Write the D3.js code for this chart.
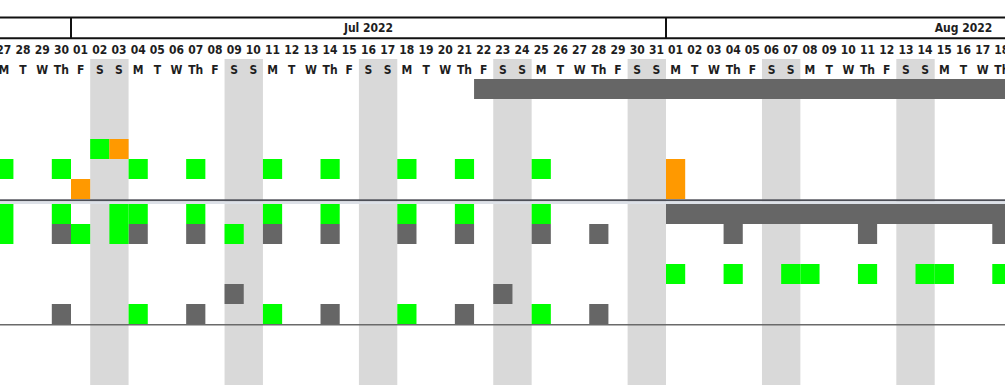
<!DOCTYPE html>
<html>
<head>
<meta charset="utf-8">
<script src="https://cdn.jsdelivr.net/npm/d3@7"></script>
<style>
  html, body { margin: 0; padding: 0; background: #fff; }
  svg { display: block; }
  text { font-family: "DejaVu Sans Condensed", "DejaVu Sans", sans-serif; font-weight: bold; font-stretch: condensed; fill: #1e1e1e; }
</style>
</head>
<body>
<div id="chart"></div>
<script>
// ---- data ----
// months shown in the header band (last entry closes the final month)
const months = ["2022-07-01", "2022-08-01", "2022-09-01"];
// visible day range
const firstDay = "2022-06-27";
const lastDay = "2022-08-19";
// weekday labels (Sunday first, as Date.getUTCDay)
const weekdayLabels = ["S", "M", "T", "W", "Th", "F", "S"];
// each mark: [start date, number of days, row, row span]
const upperDark = [["2022-07-22", 41, 0, 1]];
const upperGreen = [
  ["2022-07-02", 1, 3, 1],
  ["2022-06-27", 1, 4, 1], ["2022-06-30", 1, 4, 1], ["2022-07-04", 1, 4, 1],
  ["2022-07-07", 1, 4, 1], ["2022-07-11", 1, 4, 1], ["2022-07-14", 1, 4, 1],
  ["2022-07-18", 1, 4, 1], ["2022-07-21", 1, 4, 1], ["2022-07-25", 1, 4, 1]
];
const upperOrange = [
  ["2022-07-03", 1, 3, 1],
  ["2022-07-01", 1, 5, 1],
  ["2022-08-01", 1, 4, 2]
];
const lowerDark = [
  ["2022-08-01", 31, 0, 1],
  ["2022-06-30", 1, 1, 1], ["2022-07-04", 1, 1, 1], ["2022-07-07", 1, 1, 1],
  ["2022-07-11", 1, 1, 1], ["2022-07-14", 1, 1, 1], ["2022-07-18", 1, 1, 1],
  ["2022-07-21", 1, 1, 1], ["2022-07-25", 1, 1, 1], ["2022-07-28", 1, 1, 1],
  ["2022-08-04", 1, 1, 1], ["2022-08-11", 1, 1, 1], ["2022-08-18", 1, 1, 1],
  ["2022-07-09", 1, 4, 1], ["2022-07-23", 1, 4, 1],
  ["2022-06-30", 1, 5, 1], ["2022-07-07", 1, 5, 1], ["2022-07-14", 1, 5, 1],
  ["2022-07-21", 1, 5, 1], ["2022-07-28", 1, 5, 1]
];
const lowerGreen = [
  ["2022-06-27", 1, 0, 2], ["2022-06-30", 1, 0, 1], ["2022-07-03", 1, 0, 2],
  ["2022-07-04", 1, 0, 1], ["2022-07-07", 1, 0, 1], ["2022-07-11", 1, 0, 1],
  ["2022-07-14", 1, 0, 1], ["2022-07-18", 1, 0, 1], ["2022-07-21", 1, 0, 1],
  ["2022-07-25", 1, 0, 1],
  ["2022-07-01", 1, 1, 1], ["2022-07-09", 1, 1, 1],
  ["2022-08-01", 1, 3, 1], ["2022-08-04", 1, 3, 1], ["2022-08-07", 1, 3, 1],
  ["2022-08-08", 1, 3, 1], ["2022-08-11", 1, 3, 1], ["2022-08-14", 1, 3, 1],
  ["2022-08-15", 1, 3, 1], ["2022-08-18", 1, 3, 1],
  ["2022-07-04", 1, 5, 1], ["2022-07-11", 1, 5, 1], ["2022-07-18", 1, 5, 1],
  ["2022-07-25", 1, 5, 1]
];
const rows = [0, 1, 2, 3, 4, 5];

// ---- layout ----
const W = 1005, H = 385;
const colors = { green: "#00ff00", orange: "#ff9900", dark: "#666666", weekend: "#d9d9d9" };
const parse = d3.utcParse("%Y-%m-%d");

const x = d3.scaleUtc()
  .domain([parse("2022-07-01"), parse("2022-08-01")])
  .range([71, 666]);
const yUpper = d3.scaleBand().domain(rows).range([79, 199]);
const yLower = d3.scaleBand().domain(rows).range([204, 324]);

const svg = d3.select("#chart").append("svg").attr("width", W).attr("height", H);
svg.append("rect").attr("width", W).attr("height", H).attr("fill", "#fff");

const days = d3.utcDay.range(parse(firstDay), parse(lastDay));
const dayW = d => x(d3.utcDay.offset(d, 1)) - x(d);

// weekend shading (Saturday+Sunday as one block)
const saturdays = days.filter(d => d.getUTCDay() === 6);
svg.append("g").selectAll("rect")
  .data(saturdays)
  .join("rect")
  .attr("x", d => x(d)).attr("width", d => x(d3.utcDay.offset(d, 2)) - x(d))
  .attr("y", 59).attr("height", H - 59)
  .attr("fill", colors.weekend);

// day numbers & weekday letters
const fmtDay = d3.utcFormat("%d");
const labels = svg.append("g");
labels.selectAll("text.day").data(days).join("text")
  .attr("class", "day")
  .attr("x", d => x(d) + dayW(d) / 2).attr("y", 54)
  .attr("text-anchor", "middle").attr("font-size", 12)
  .text(d => fmtDay(d));
labels.selectAll("text.wd").data(days).join("text")
  .attr("class", "wd")
  .attr("x", d => x(d) + dayW(d) / 2).attr("y", 74)
  .attr("text-anchor", "middle").attr("font-size", 12)
  .text(d => weekdayLabels[d.getUTCDay()]);

// marks
function drawMarks(data, yScale, color) {
  svg.append("g").selectAll("rect").data(data).join("rect")
    .attr("x", d => x(parse(d[0])))
    .attr("width", d => x(d3.utcDay.offset(parse(d[0]), d[1])) - x(parse(d[0])))
    .attr("y", d => yScale(d[2]))
    .attr("height", d => yScale.bandwidth() * d[3])
    .attr("fill", color);
}
drawMarks(upperDark, yUpper, colors.dark);
drawMarks(upperGreen, yUpper, colors.green);
drawMarks(upperOrange, yUpper, colors.orange);
drawMarks(lowerDark, yLower, colors.dark);
drawMarks(lowerGreen, yLower, colors.green);

// splitter between the two groups
svg.append("rect").attr("x", 0).attr("y", 199.3).attr("width", W).attr("height", 2).attr("fill", "#4d4f57");
svg.append("rect").attr("x", 0).attr("y", 201.3).attr("width", W).attr("height", 2.7).attr("fill", "#dde1e8");
// bottom line of lower group
svg.append("line").attr("x1", 0).attr("x2", W).attr("y1", 324.8).attr("y2", 324.8)
  .attr("stroke", "#6a6a6a").attr("stroke-width", 1.5);

// month header band
const monthDates = months.map(parse);
const header = svg.append("g");
header.append("line").attr("x1", 0).attr("x2", W).attr("y1", 17.5).attr("y2", 17.5)
  .attr("stroke", "#111").attr("stroke-width", 2);
header.append("line").attr("x1", 0).attr("x2", W).attr("y1", 38.3).attr("y2", 38.3)
  .attr("stroke", "#111").attr("stroke-width", 2);
header.selectAll("line.sep").data(monthDates.slice(0, -1)).join("line")
  .attr("class", "sep")
  .attr("x1", d => x(d)).attr("x2", d => x(d))
  .attr("y1", 17.5).attr("y2", 38.3)
  .attr("stroke", "#111").attr("stroke-width", 2);
const fmtMonth = d3.utcFormat("%b %Y");
header.selectAll("text").data(monthDates.slice(0, -1)).join("text")
  .attr("x", (d, i) => (x(d) + x(monthDates[i + 1])) / 2)
  .attr("y", 32)
  .attr("text-anchor", "middle").attr("font-size", 12)
  .text(d => fmtMonth(d));
</script>
</body>
</html>
